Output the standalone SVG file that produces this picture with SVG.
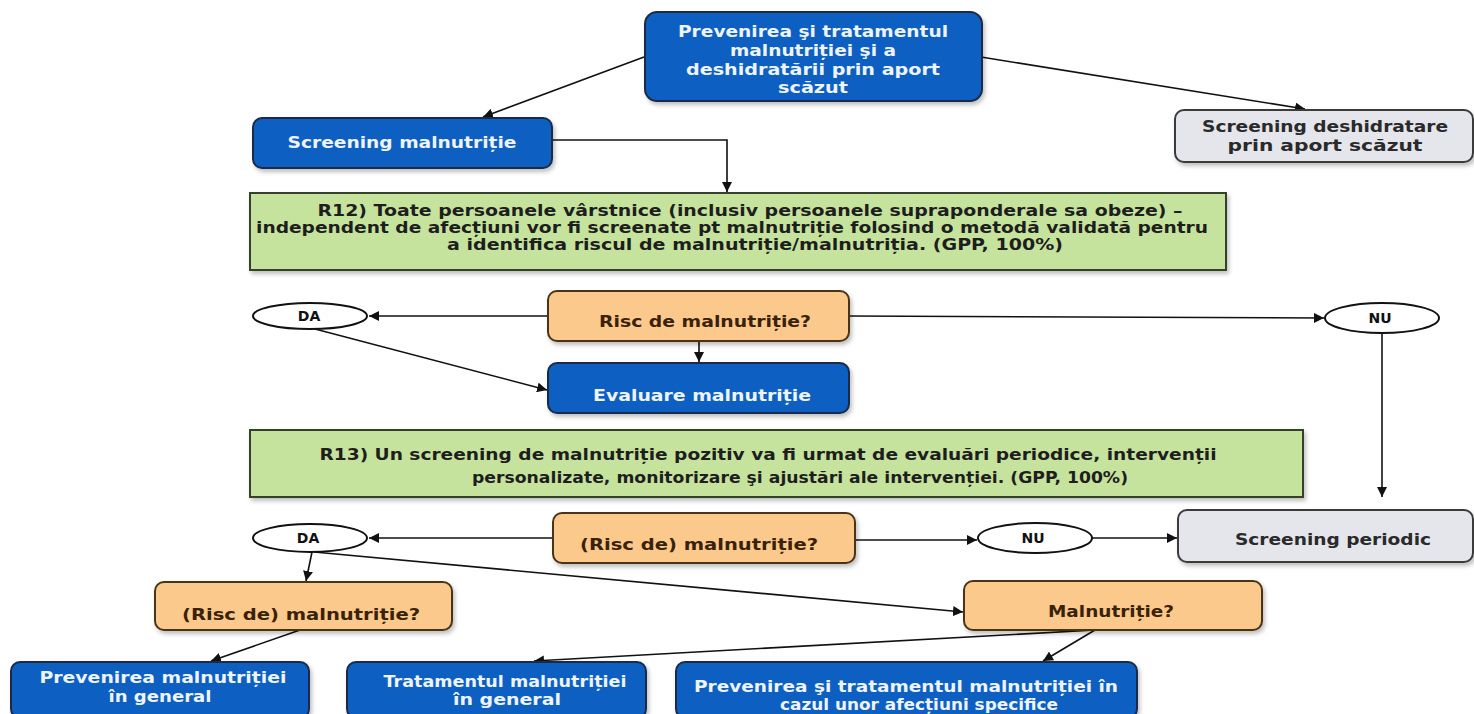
<svg xmlns="http://www.w3.org/2000/svg" width="1474" height="714" viewBox="0 0 1474 714">
<defs>
<marker id="arr" viewBox="0 0 10 10" refX="10" refY="5" markerWidth="10" markerHeight="10" markerUnits="userSpaceOnUse" orient="auto">
<path d="M0,0 L10,5 L0,10 z" fill="#111"/>
</marker>
<filter id="sh" x="-10%" y="-10%" width="120%" height="130%">
<feDropShadow dx="2" dy="3" stdDeviation="2" flood-color="#000" flood-opacity="0.25"/>
</filter>
<style>
text{font-family:"DejaVu Sans","Verdana","Liberation Sans",sans-serif;font-weight:bold;text-anchor:middle}
.blue rect{fill:#0b5fc1;stroke:#1c2c48;stroke-width:2;filter:url(#sh)}
.blue text{fill:#eef4ff;font-size:16px}
.orange rect{fill:#fcc98c;stroke:#4a3418;stroke-width:2;filter:url(#sh)}
.orange text{fill:#3a2208;font-size:16px}
.green rect{fill:#c6e39d;stroke:#36432a;stroke-width:2;filter:url(#sh)}
.green text{fill:#1e1e1e}
.gray rect{fill:#e5e5ec;stroke:#3a3a3a;stroke-width:2;filter:url(#sh)}
.gray text{fill:#2a2a2a;font-size:16px}
.oval ellipse{fill:#fff;stroke:#111;stroke-width:2}
.oval text{fill:#111;font-size:14px}
#connectors path{fill:none;stroke:#111;stroke-width:1.6;marker-end:url(#arr)}
</style>
</defs>
<rect width="1474" height="714" fill="#ffffff"/>

<g id="connectors">
<path d="M644,57 L483,117"/>
<path d="M981,57 L1305,109"/>
<path d="M553,140 L727,140 L727,192"/>
<path d="M548,316 L369,316"/>
<path d="M849,316 L1324,318"/>
<path d="M699,341 L699,362"/>
<path d="M315,329 L547,390"/>
<path d="M1382,334 L1382,497"/>
<path d="M553,538 L369,538"/>
<path d="M855,540 L977,540"/>
<path d="M1092,538 L1177,538"/>
<path d="M312,552 L306,581"/>
<path d="M314,552 L963,612"/>
<path d="M300,630 L211,661"/>
<path d="M1095,630 L534,661"/>
<path d="M1095,630 L1043,661"/>
</g>

<g id="n-top" class="blue">
<rect x="645" y="12" width="337" height="89" rx="12"/>
<text x="813" y="37" textLength="270" lengthAdjust="spacingAndGlyphs">Prevenirea şi tratamentul</text>
<text x="813" y="56" textLength="166" lengthAdjust="spacingAndGlyphs">malnutriției şi a</text>
<text x="813" y="75" textLength="254" lengthAdjust="spacingAndGlyphs">deshidratării prin aport</text>
<text x="813" y="93" textLength="70" lengthAdjust="spacingAndGlyphs">scăzut</text>
</g>

<g id="n-screen-mal" class="blue">
<rect x="253" y="118" width="299" height="50" rx="9"/>
<text x="402" y="148" textLength="229" lengthAdjust="spacingAndGlyphs">Screening malnutriție</text>
</g>

<g id="n-screen-desh" class="gray">
<rect x="1175" y="110" width="298" height="52" rx="9"/>
<text x="1325" y="132" textLength="246" lengthAdjust="spacingAndGlyphs">Screening deshidratare</text>
<text x="1325" y="151" textLength="195" lengthAdjust="spacingAndGlyphs">prin aport scăzut</text>
</g>

<g id="n-r12" class="green">
<rect x="250" y="193" width="976" height="77"/>
<text x="750" y="216" font-size="15" textLength="865" lengthAdjust="spacingAndGlyphs">R12) Toate persoanele vârstnice (inclusiv persoanele supraponderale sa obeze) –</text>
<text x="732" y="233" font-size="15" textLength="952" lengthAdjust="spacingAndGlyphs">independent de afecțiuni  vor fi screenate pt malnutriție folosind o metodă validată pentru</text>
<text x="755" y="250" font-size="15" textLength="616" lengthAdjust="spacingAndGlyphs">a identifica riscul de malnutriție/malnutriția. (GPP, 100%)</text>
</g>

<g id="n-risc1" class="orange">
<rect x="548" y="291" width="301" height="50" rx="9"/>
<text x="705" y="327" textLength="212" lengthAdjust="spacingAndGlyphs">Risc de malnutriție?</text>
</g>

<g id="n-da1" class="oval">
<ellipse cx="310" cy="316" rx="57" ry="13"/>
<text x="309" y="321">DA</text>
</g>

<g id="n-nu1" class="oval">
<ellipse cx="1382" cy="318" rx="57" ry="15"/>
<text x="1380" y="323">NU</text>
</g>

<g id="n-eval" class="blue">
<rect x="548" y="363" width="301" height="50" rx="9"/>
<text x="702" y="401" textLength="218" lengthAdjust="spacingAndGlyphs">Evaluare malnutriție</text>
</g>

<g id="n-r13" class="green">
<rect x="250" y="430" width="1053" height="67"/>
<text x="768" y="460" font-size="16" textLength="897" lengthAdjust="spacingAndGlyphs">R13) Un screening de malnutriție pozitiv va fi urmat de evaluări periodice, intervenții</text>
<text x="800" y="483" font-size="16" textLength="656" lengthAdjust="spacingAndGlyphs">personalizate, monitorizare şi ajustări ale intervenției. (GPP, 100%)</text>
</g>

<g id="n-risc2" class="orange">
<rect x="553" y="513" width="302" height="50" rx="9"/>
<text x="699" y="550" textLength="238" lengthAdjust="spacingAndGlyphs">(Risc de) malnutriție?</text>
</g>

<g id="n-da2" class="oval">
<ellipse cx="310" cy="538" rx="57" ry="14"/>
<text x="308" y="543">DA</text>
</g>

<g id="n-nu2" class="oval">
<ellipse cx="1035" cy="538" rx="57" ry="15"/>
<text x="1033" y="543">NU</text>
</g>

<g id="n-periodic" class="gray">
<rect x="1178" y="510" width="295" height="52" rx="9"/>
<text x="1333" y="545" textLength="196" lengthAdjust="spacingAndGlyphs">Screening periodic</text>
</g>

<g id="n-risc3" class="orange">
<rect x="155" y="582" width="297" height="48" rx="9"/>
<text x="301" y="620" textLength="238" lengthAdjust="spacingAndGlyphs">(Risc de) malnutriție?</text>
</g>

<g id="n-mal" class="orange">
<rect x="964" y="581" width="298" height="49" rx="9"/>
<text x="1111" y="617" textLength="126" lengthAdjust="spacingAndGlyphs">Malnutriție?</text>
</g>

<g id="n-prev" class="blue">
<rect x="11" y="662" width="298" height="56" rx="9"/>
<text x="163" y="683" textLength="247" lengthAdjust="spacingAndGlyphs">Prevenirea malnutriției</text>
<text x="160" y="702" textLength="103" lengthAdjust="spacingAndGlyphs">în general</text>
</g>

<g id="n-trat" class="blue">
<rect x="347" y="662" width="299" height="56" rx="9"/>
<text x="505" y="687" textLength="243" lengthAdjust="spacingAndGlyphs">Tratamentul malnutriției</text>
<text x="507" y="705" textLength="108" lengthAdjust="spacingAndGlyphs">în general</text>
</g>

<g id="n-prevtrat" class="blue">
<rect x="676" y="662" width="461" height="56" rx="9"/>
<text x="906" y="692" textLength="424" lengthAdjust="spacingAndGlyphs">Prevenirea şi tratamentul malnutriției în</text>
<text x="919" y="710" textLength="278" lengthAdjust="spacingAndGlyphs">cazul unor afecțiuni specifice</text>
</g>
</svg>
